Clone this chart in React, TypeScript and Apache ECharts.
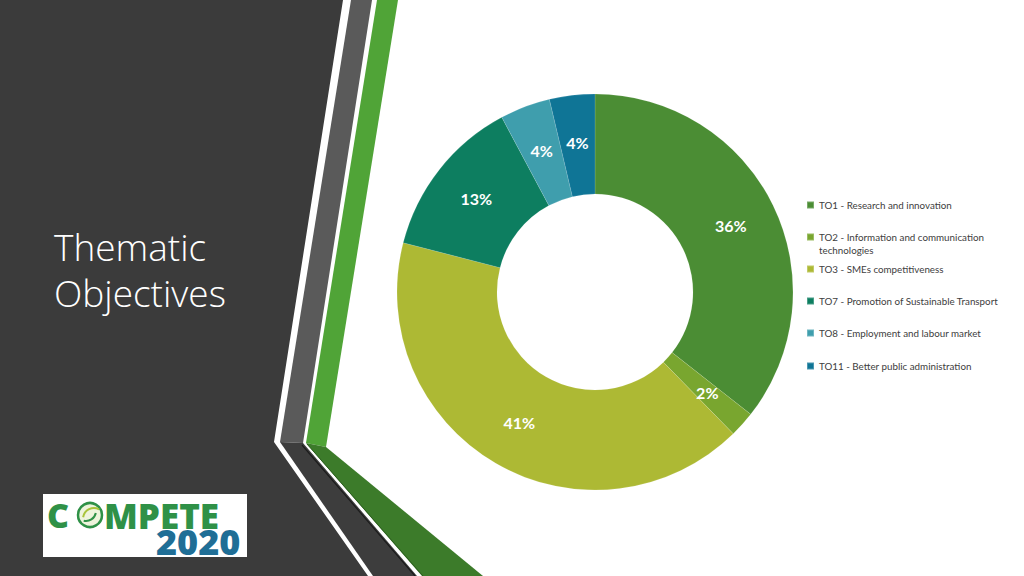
import React, { useEffect, useRef } from "react";
import * as echarts from "echarts";

const categories = [
  "TO1 - Research and innovation",
  "TO2 - Information and communication\ntechnologies",
  "TO3 - SMEs competitiveness",
  "TO7 - Promotion of Sustainable Transport",
  "TO8 - Employment and labour market",
  "TO11 - Better public administration",
];
const shares = [35.6, 2.1, 41.3, 13.2, 4.1, 3.7];
const sliceColors = ["#4b8d34", "#79a62f", "#adb934", "#0d7e60", "#3f9ead", "#0f7596"];
const titleLines = ["Thematic", "Objectives"];

const legendCenters = [205, 237, 269, 301, 333, 366];

export default function App() {
  const ref = useRef<HTMLDivElement>(null);
  useEffect(() => {
    if (!ref.current) return;
    const chart = echarts.init(ref.current, null, { renderer: "svg" });
    const dark = "#3b3b3b";
    const option: any = {
      animation: false,
      backgroundColor: "#ffffff",
      color: sliceColors,
      graphic: [
        // dark left panel
        { type: "polygon", z: 0, shape: { points: [[0, 0], [343, 0], [274, 442], [368, 576], [0, 576]] }, style: { fill: dark } },
        // upper gray stripe
        { type: "polygon", z: 0, shape: { points: [[351, 0], [372, 0], [303, 443], [280, 442]] }, style: { fill: "#5a5a5a" } },
        // lower dark stripe
        { type: "polygon", z: 0, shape: { points: [[280, 442], [303, 443], [417, 576], [373, 576]] }, style: { fill: "#3d3d3d" } },
        { type: "line", z: 0, shape: { x1: 302, y1: 445, x2: 415, y2: 576 }, style: { stroke: "#1c1c1c", lineWidth: 1.2 } },
        // upper green stripe
        { type: "polygon", z: 0, shape: { points: [[377, 0], [398, 0], [326, 447], [306, 443]] }, style: { fill: "#50a437" } },
        // lower green stripe
        { type: "polygon", z: 0, shape: { points: [[306, 443], [326, 447], [483, 576], [422, 576]] }, style: { fill: "#3c7b2a" } },
        { type: "line", z: 0, shape: { x1: 307, y1: 444, x2: 423, y2: 576 }, style: { stroke: "#2c5e1f", lineWidth: 1 } },
        // title
        ...titleLines.map((t, i) => ({
          type: "text",
          z: 5,
          x: 54,
          y: 246 + i * 46,
          style: { text: t, fill: "#ffffff", fontFamily: "Open Sans", fontWeight: 300, fontSize: 37, verticalAlign: "middle" },
        })),
        // logo box
        { type: "rect", z: 5, shape: { x: 43, y: 494, width: 204, height: 63 }, style: { fill: "#ffffff" } },
        { type: "text", z: 6, x: 47, y: 515, style: { text: "C", fill: "#2f9147", fontFamily: "Open Sans", fontWeight: 800, fontSize: 34, verticalAlign: "middle" } },
        { type: "circle", z: 6, shape: { cx: 90, cy: 515, r: 12 }, style: { fill: "#eef4dc", stroke: "#2f9147", lineWidth: 2.5 } },
        { type: "arc", z: 7, shape: { cx: 94, cy: 519, r: 11, startAngle: 3.3, endAngle: 5.2 }, style: { stroke: "#a9c43a", lineWidth: 2, fill: "none" } },
        { type: "arc", z: 7, shape: { cx: 86, cy: 511, r: 10, startAngle: 0.2, endAngle: 1.8 }, style: { stroke: "#2f9147", lineWidth: 2, fill: "none" } },
        { type: "text", z: 6, x: 104, y: 515, style: { text: "MPETE", fill: "#2f9147", fontFamily: "Open Sans", fontWeight: 800, fontSize: 35, verticalAlign: "middle" } },
        { type: "text", z: 6, x: 156, y: 541, style: { text: "2020", fill: "#1f6e96", fontFamily: "Open Sans", fontWeight: 800, fontSize: 36, verticalAlign: "middle" } },
      ],
      legend: categories.map((name, i) => ({
        data: [name],
        left: 806,
        top: i === 1 ? legendCenters[i] - 19.5 : legendCenters[i] - 6.5,
        orient: "vertical",
        padding: 0,
        itemWidth: 7,
        itemHeight: 7,
        icon: "rect",
        selectedMode: false,
        formatter: i === 1 ? (n: string) => " \n" + n : undefined,
        textStyle: {
          fontFamily: "Lato",
          fontSize: 9.8,
          color: "#404040",
          lineHeight: 13,
        },
      })),
      series: [
        {
          type: "pie",
          center: [595, 292],
          radius: [98, 198],
          startAngle: 90,
          clockwise: true,
          percentPrecision: 0,
          z: 3,
          itemStyle: { borderColor: "rgba(255,255,255,0.25)", borderWidth: 0.5 },
          label: {
            show: true,
            position: "inside",
            formatter: "{d}%",
            color: "#ffffff",
            fontFamily: "Lato",
            fontWeight: "bold",
            fontSize: 16,
          },
          labelLine: { show: false },
          emphasis: { disabled: true },
          data: categories.map((name, i) => ({ name, value: shares[i] })),
        },
      ],
    };
    chart.setOption(option);
    return () => chart.dispose();
  }, []);
  return <div ref={ref} style={{ position: "fixed", left: 0, top: 0, width: 1024, height: 576 }} />;
}
